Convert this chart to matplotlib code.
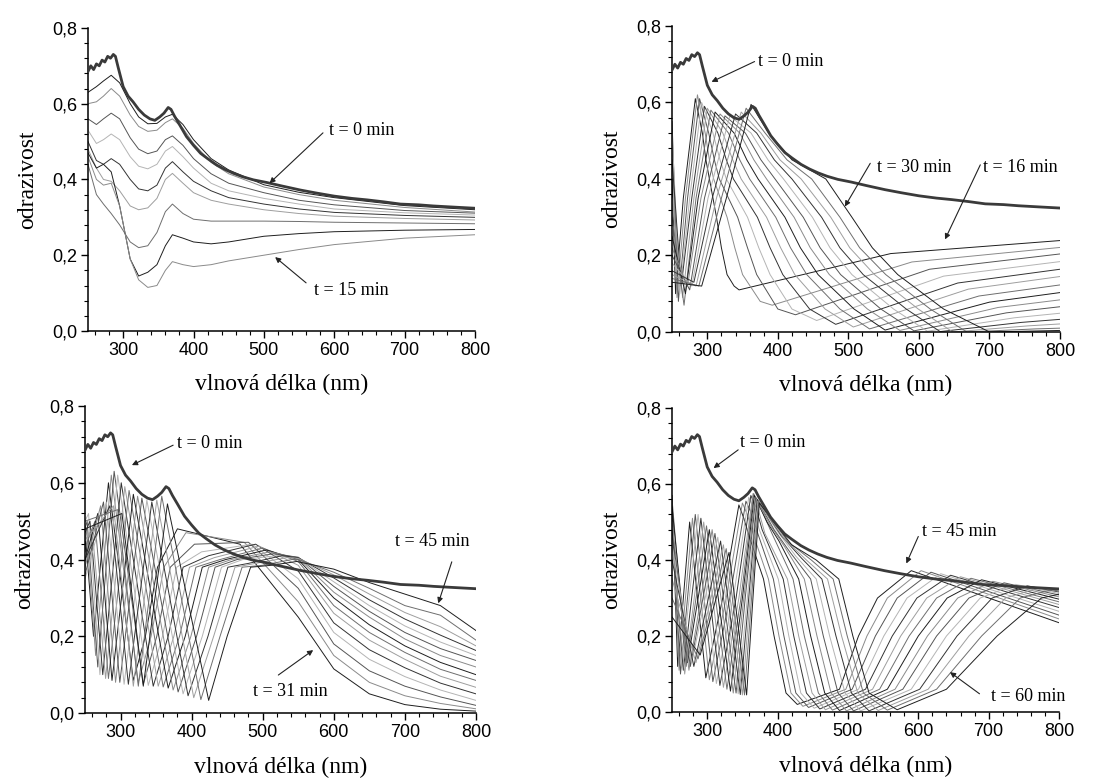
import matplotlib

matplotlib.use("Agg")
import matplotlib.pyplot as plt
from matplotlib.ticker import MultipleLocator, FuncFormatter

SERIF = ["Liberation Serif", "DejaVu Serif"]
SANS = ["Liberation Sans", "DejaVu Sans"]
GRAYS = ["#1e1e1e", "#8a8a8a", "#555555", "#b4b4b4", "#333333", "#9e9e9e", "#6e6e6e"]

# t = 0 min spectrum (identical in all four panels)
T0_LAM = [250, 254, 258, 262, 266, 270, 274, 278, 282, 286, 289, 293, 300, 307, 314, 322,
          330, 338, 345, 352, 358, 364, 368, 373, 380, 390, 400, 410, 420, 433, 445, 457,
          470, 485, 504, 525, 552, 575, 600, 625, 647, 670, 694, 720, 741, 770, 800]
T0_R = [0.685, 0.70, 0.69, 0.705, 0.70, 0.715, 0.71, 0.725, 0.72, 0.73, 0.725, 0.695, 0.645,
        0.62, 0.605, 0.585, 0.57, 0.56, 0.556, 0.565, 0.575, 0.59, 0.585, 0.567, 0.545, 0.513,
        0.49, 0.469, 0.455, 0.438, 0.426, 0.416, 0.407, 0.399, 0.392, 0.383, 0.372, 0.364,
        0.356, 0.35, 0.346, 0.341, 0.335, 0.333, 0.330, 0.327, 0.324]

# panel 1: t = 1 .. 15 min, read on a common wavelength grid
P1_LAM = [250, 262, 272, 283, 295, 310, 322, 335, 348, 360, 370, 385, 400, 425, 450, 500, 550, 600, 700, 800]
P1_R = [
    [0.63, 0.645, 0.66, 0.675, 0.655, 0.60, 0.565, 0.547, 0.548, 0.565, 0.572, 0.545, 0.505, 0.455, 0.425, 0.386, 0.366, 0.352, 0.331, 0.32],
    [0.60, 0.605, 0.62, 0.64, 0.62, 0.57, 0.54, 0.527, 0.53, 0.55, 0.56, 0.535, 0.495, 0.445, 0.415, 0.38, 0.36, 0.345, 0.326, 0.314],
    [0.56, 0.545, 0.56, 0.575, 0.56, 0.51, 0.48, 0.468, 0.475, 0.505, 0.515, 0.49, 0.455, 0.415, 0.39, 0.365, 0.345, 0.333, 0.318, 0.311],
    [0.53, 0.495, 0.505, 0.52, 0.505, 0.46, 0.435, 0.428, 0.44, 0.475, 0.487, 0.46, 0.43, 0.39, 0.37, 0.35, 0.335, 0.322, 0.312, 0.306],
    [0.50, 0.45, 0.44, 0.455, 0.44, 0.40, 0.375, 0.37, 0.385, 0.43, 0.447, 0.42, 0.395, 0.37, 0.352, 0.335, 0.322, 0.313, 0.305, 0.30],
    [0.48, 0.43, 0.40, 0.395, 0.37, 0.33, 0.32, 0.325, 0.35, 0.40, 0.416, 0.39, 0.365, 0.345, 0.335, 0.32, 0.31, 0.303, 0.297, 0.293],
    [0.44, 0.36, 0.335, 0.31, 0.28, 0.235, 0.22, 0.225, 0.26, 0.315, 0.335, 0.31, 0.295, 0.29, 0.29, 0.29, 0.289, 0.287, 0.285, 0.283],
    [0.47, 0.43, 0.44, 0.42, 0.33, 0.19, 0.145, 0.155, 0.175, 0.225, 0.254, 0.245, 0.235, 0.23, 0.235, 0.25, 0.257, 0.262, 0.266, 0.268],
    [0.46, 0.40, 0.385, 0.39, 0.33, 0.19, 0.135, 0.115, 0.12, 0.16, 0.183, 0.175, 0.17, 0.175, 0.185, 0.20, 0.215, 0.228, 0.245, 0.254],
]

# panel 2: t = 16 .. 30 min, feature positions of each spectrum
P2_A250 = [0.40, 0.50, 0.55, 0.52, 0.45, 0.35, 0.30, 0.25, 0.22, 0.20, 0.18, 0.16, 0.15, 0.14, 0.13]
P2_LMIN = [255, 257, 259, 261, 263, 265, 267, 269, 272, 275, 278, 281, 284, 288, 292]
P2_RLMIN = [0.10, 0.09, 0.08, 0.10, 0.12, 0.09, 0.07, 0.10, 0.12, 0.11, 0.12, 0.13, 0.12, 0.12, 0.12]
P2_LRISE = [266, 269, 272, 275, 278, 281, 284, 287, 291, 296, 301, 307, 313, 320, 327]
P2_PEAK = [283, 286, 289, 292, 296, 300, 305, 311, 318, 325, 332, 340, 348, 355, 362]
P2_RPEAK = [0.61, 0.62, 0.61, 0.60, 0.59, 0.585, 0.58, 0.575, 0.57, 0.565, 0.565, 0.57, 0.575, 0.585, 0.595]
P2_L52 = [293, 297, 302, 308, 315, 322, 330, 338, 346, 354, 362, 370, 376, 382, 387]
P2_L45 = [298, 303, 310, 318, 327, 336, 346, 356, 366, 376, 386, 395, 403, 413, 420]
P2_L40 = [303, 309, 317, 327, 337, 348, 360, 372, 384, 396, 408, 420, 433, 448, 468]
P2_L30 = [313, 328, 343, 357, 371, 384, 397, 410, 423, 436, 449, 462, 475, 488, 505]
P2_L22 = [320, 339, 357, 373, 389, 404, 418, 432, 446, 460, 474, 488, 502, 516, 534]
P2_L15 = [328, 350, 370, 389, 407, 424, 441, 457, 473, 489, 505, 521, 537, 553, 570]
P2_L06 = [338, 375, 400, 420, 445, 467, 488, 508, 527, 546, 564, 582, 599, 616, 635]
P2_R06 = [0.12, 0.08, 0.06, 0.06, 0.06, 0.06, 0.06, 0.06, 0.06, 0.06, 0.06, 0.06, 0.06, 0.06, 0.06]
P2_MIN = [345, 392, 425, 455, 482, 507, 530, 552, 573, 593, 612, 630, 648, 668, 700]
P2_RMIN = [0.11, 0.07, 0.045, 0.03, 0.02, 0.013, 0.008, 0.005, 0.004, 0.003, 0.002, 0.001, 0.0, 0.0, 0.0]
P2_KNEE = [560, 590, 615, 635, 655, 670, 685, 700, 712, 724, 735, 745, 755, 765, 775]
P2_RKNEE = [0.205, 0.183, 0.164, 0.146, 0.128, 0.112, 0.094, 0.078, 0.064, 0.05, 0.037, 0.025, 0.016, 0.008, 0.003]
P2_R800 = [0.239, 0.221, 0.204, 0.184, 0.164, 0.145, 0.123, 0.103, 0.084, 0.066, 0.049, 0.033, 0.021, 0.010, 0.004]

# panel 3: t = 31 .. 45 min
P3_A250 = [0.42, 0.45, 0.48, 0.50, 0.47, 0.45, 0.43, 0.40, 0.38, 0.36, 0.35, 0.40, 0.45, 0.50, 0.48]
P3_PK0 = [251, 252, 253, 255, 257, 260, 264, 268, 272, 276, 280, 285, 290, 296, 302]
P3_RPK0 = [0.45, 0.48, 0.50, 0.52, 0.50, 0.48, 0.50, 0.52, 0.54, 0.55, 0.55, 0.54, 0.54, 0.53, 0.52]
P3_LL = [262, 265, 268, 271, 275, 279, 283, 288, 293, 299, 305, 311, 318, 325, 332]
P3_RLL = [0.20, 0.15, 0.12, 0.10, 0.10, 0.09, 0.09, 0.085, 0.08, 0.08, 0.075, 0.075, 0.07, 0.07, 0.07]
P3_PP = [283, 287, 291, 296, 301, 306, 312, 318, 324, 330, 337, 344, 351, 358, 366]
P3_RPP = [0.60, 0.62, 0.63, 0.62, 0.60, 0.59, 0.58, 0.57, 0.565, 0.56, 0.555, 0.55, 0.555, 0.565, 0.545]
P3_RM = [318, 325, 332, 339, 346, 353, 360, 367, 374, 381, 388, 395, 403, 413, 424]
P3_RRM = [0.085, 0.08, 0.075, 0.072, 0.07, 0.07, 0.068, 0.065, 0.06, 0.055, 0.05, 0.045, 0.04, 0.035, 0.033]
P3_RS1 = [335, 343, 351, 359, 367, 375, 383, 391, 399, 407, 415, 423, 431, 440, 450]
P3_RS2 = [352, 361, 370, 379, 388, 397, 406, 415, 424, 433, 442, 451, 461, 471, 483]
P3_PL = [380, 392, 404, 414, 424, 432, 440, 448, 456, 464, 472, 480, 490, 500, 512]
P3_RPL = [0.48, 0.47, 0.44, 0.42, 0.41, 0.405, 0.40, 0.40, 0.40, 0.40, 0.40, 0.39, 0.39, 0.385, 0.385]
P3_RP = [468, 474, 480, 485, 490, 495, 500, 505, 510, 515, 520, 527, 534, 541, 548]
P3_RRP = [0.44, 0.445, 0.445, 0.44, 0.44, 0.435, 0.43, 0.425, 0.42, 0.415, 0.41, 0.41, 0.405, 0.40, 0.395]
P3_TAIL_LAM = [550, 600, 650, 700, 750, 800]
P3_R550 = [0.25, 0.29, 0.325, 0.35, 0.37, 0.385, 0.395, 0.40, 0.404, 0.406, 0.405, 0.405, 0.403, 0.40, 0.394]
P3_R600 = [0.115, 0.15, 0.18, 0.21, 0.235, 0.26, 0.28, 0.30, 0.315, 0.33, 0.342, 0.352, 0.36, 0.367, 0.375]
P3_R650 = [0.05, 0.08, 0.11, 0.14, 0.165, 0.19, 0.21, 0.23, 0.25, 0.265, 0.28, 0.295, 0.31, 0.325, 0.34]
P3_R700 = [0.022, 0.045, 0.07, 0.095, 0.118, 0.14, 0.158, 0.175, 0.193, 0.21, 0.227, 0.245, 0.262, 0.28, 0.31]
P3_R750 = [0.01, 0.025, 0.042, 0.06, 0.078, 0.096, 0.114, 0.132, 0.15, 0.168, 0.185, 0.203, 0.225, 0.255, 0.28]
P3_R800 = [0.005, 0.011, 0.02, 0.033, 0.05, 0.067, 0.085, 0.10, 0.12, 0.137, 0.15, 0.163, 0.175, 0.19, 0.215]

# panel 4: t = 46 .. 60 min
P4_A250 = [0.57, 0.55, 0.52, 0.50, 0.48, 0.45, 0.56, 0.54, 0.50, 0.47, 0.44, 0.40, 0.35, 0.30, 0.25]
P4_LM1 = [258, 260, 262, 264, 266, 268, 270, 272, 274, 276, 278, 281, 284, 287, 290]
P4_RLM1 = [0.12, 0.11, 0.10, 0.12, 0.11, 0.10, 0.12, 0.13, 0.11, 0.12, 0.13, 0.12, 0.13, 0.14, 0.15]
P4_LP1 = [275, 279, 283, 287, 291, 295, 299, 303, 307, 311, 315, 319, 323, 327, 331]
P4_RLP1 = [0.50, 0.51, 0.52, 0.52, 0.51, 0.50, 0.49, 0.48, 0.48, 0.47, 0.46, 0.45, 0.44, 0.43, 0.42]
P4_LM2 = [298, 303, 308, 313, 318, 323, 328, 333, 337, 341, 344, 347, 350, 353, 356]
P4_RLM2 = [0.09, 0.085, 0.08, 0.075, 0.07, 0.065, 0.06, 0.055, 0.05, 0.05, 0.048, 0.046, 0.045, 0.045, 0.045]
P4_UP = [322, 327, 332, 337, 341, 345, 348, 350, 352, 354, 357, 359, 361, 363, 365]
P4_TOP = [345, 350, 355, 359, 362, 365, 366, 367, 368, 369, 370, 371, 372, 373, 374]
P4_RTOP = [0.545, 0.55, 0.555, 0.565, 0.57, 0.575, 0.575, 0.57, 0.565, 0.565, 0.56, 0.56, 0.555, 0.555, 0.55]
P4_MID = [352, 357, 361, 365, 369, 373, 380, 385, 390, 395, 400, 405, 410, 415, 420]
P4_RMID = [0.51, 0.52, 0.53, 0.54, 0.54, 0.53, 0.52, 0.50, 0.49, 0.48, 0.475, 0.465, 0.455, 0.448, 0.44]
P4_SH = [360, 365, 370, 374, 378, 382, 392, 402, 410, 418, 426, 434, 441, 448, 455]
P4_RSH = [0.46, 0.47, 0.48, 0.48, 0.48, 0.47, 0.47, 0.45, 0.435, 0.42, 0.41, 0.405, 0.40, 0.40, 0.40]
P4_F35 = [380, 387, 394, 401, 408, 414, 422, 430, 438, 447, 455, 463, 471, 479, 487]
P4_F20 = [395, 402, 409, 416, 423, 430, 438, 447, 456, 465, 474, 483, 491, 499, 507]
P4_F05 = [412, 419, 426, 433, 441, 449, 458, 467, 476, 486, 496, 505, 514, 522, 530]
P4_RM = [428, 436, 444, 452, 460, 468, 478, 488, 498, 508, 518, 530, 543, 556, 570]
P4_RRM = [0.02, 0.015, 0.012, 0.01, 0.008, 0.006, 0.005, 0.004, 0.003, 0.003, 0.003, 0.003, 0.004, 0.005, 0.006]
P4_R06 = [488, 497, 506, 515, 525, 535, 545, 556, 567, 578, 590, 602, 614, 626, 640]
P4_R20 = [515, 527, 539, 551, 563, 575, 587, 600, 613, 626, 640, 655, 672, 690, 712]
P4_R30 = [542, 556, 570, 584, 598, 612, 626, 641, 656, 672, 688, 705, 724, 745, 775]
P4_RP = [590, 604, 618, 632, 646, 660, 675, 690, 706, 722, 738, 755, 772, 790, 800]
P4_RRP = [0.372, 0.372, 0.368, 0.364, 0.36, 0.356, 0.352, 0.348, 0.344, 0.34, 0.336, 0.332, 0.327, 0.322, 0.31]
P4_R800 = [0.235, 0.245, 0.255, 0.265, 0.275, 0.283, 0.29, 0.297, 0.303, 0.308, 0.312, 0.316, 0.318, 0.318, 0.31]

# labels: (text, text position, arrow start, arrow tip)
P1_NOTES = [("t = 0 min", (592, 0.53), (584, 0.523), (508, 0.39)),
            ("t = 15 min", (571, 0.108), (560, 0.127), (516, 0.195))]
P2_NOTES = [("t = 0 min", (372, 0.707), (367, 0.707), (306, 0.654)),
            ("t = 30 min", (541, 0.43), (531, 0.441), (495, 0.328)),
            ("t = 16 min", (691, 0.43), (687, 0.437), (637, 0.242))]
P3_NOTES = [("t = 0 min", (379, 0.703), (374, 0.698), (316, 0.646)),
            ("t = 45 min", (686, 0.446), (766, 0.394), (747, 0.286)),
            ("t = 31 min", (487, 0.056), (522, 0.099), (571, 0.164))]
P4_NOTES = [("t = 0 min", (347, 0.709), (344, 0.69), (309, 0.642)),
            ("t = 45 min", (605, 0.475), (600, 0.462), (583, 0.391)),
            ("t = 60 min", (704, 0.04), (687, 0.048), (645, 0.105))]


def panel2_curves():
    lam, ref = [], []
    for i in range(len(P2_PEAK)):
        lam.append([250, P2_LMIN[i], P2_LRISE[i], P2_PEAK[i], P2_L52[i], P2_L45[i], P2_L40[i],
                    P2_L30[i], P2_L22[i], P2_L15[i], P2_L06[i], P2_MIN[i], P2_KNEE[i], 800])
        ref.append([P2_A250[i], P2_RLMIN[i], 0.35, P2_RPEAK[i], 0.52, 0.45, 0.40, 0.30, 0.22, 0.15,
                    P2_R06[i], P2_RMIN[i], P2_RKNEE[i], P2_R800[i]])
    return lam, ref


def panel3_curves():
    lam, ref = [], []
    tails = [P3_R550, P3_R600, P3_R650, P3_R700, P3_R750, P3_R800]
    for i in range(len(P3_RP)):
        lam.append([250, P3_PK0[i], P3_LL[i], P3_PP[i], P3_RM[i], P3_RS1[i], P3_RS2[i], P3_PL[i],
                    P3_RP[i]] + P3_TAIL_LAM)
        ref.append([P3_A250[i], P3_RPK0[i], P3_RLL[i], P3_RPP[i], P3_RRM[i], 0.20, 0.38, P3_RPL[i],
                    P3_RRP[i]] + [t[i] for t in tails])
    return lam, ref


def panel4_curves():
    lam, ref = [], []
    for i in range(len(P4_RP)):
        l = [250, P4_LM1[i], P4_LP1[i], P4_LM2[i], P4_UP[i], P4_TOP[i], P4_MID[i], P4_SH[i],
             P4_F35[i], P4_F20[i], P4_F05[i], P4_RM[i], P4_R06[i], P4_R20[i], P4_R30[i], P4_RP[i]]
        r = [P4_A250[i], P4_RLM1[i], P4_RLP1[i], P4_RLM2[i], 0.30, P4_RTOP[i], P4_RMID[i], P4_RSH[i],
             0.35, 0.20, 0.05, P4_RRM[i], 0.06, 0.20, 0.30, P4_RRP[i]]
        if P4_RP[i] < 800:
            l.append(800)
            r.append(P4_R800[i])
        lam.append(l)
        ref.append(r)
    return lam, ref


def style_axes(ax):
    ax.set_xlim(250, 800)
    ax.set_ylim(0, 0.8)
    ax.spines["top"].set_visible(False)
    ax.spines["right"].set_visible(False)
    for s in ("left", "bottom"):
        ax.spines[s].set_linewidth(1.1)
    ax.xaxis.set_major_locator(MultipleLocator(100))
    ax.xaxis.set_minor_locator(MultipleLocator(20))
    ax.yaxis.set_major_locator(MultipleLocator(0.2))
    ax.yaxis.set_minor_locator(MultipleLocator(0.04))
    ax.set_xticks([300, 400, 500, 600, 700, 800])
    ax.yaxis.set_major_formatter(FuncFormatter(lambda v, p: f"{v:.1f}".replace(".", ",")))
    ax.tick_params(which="major", direction="out", length=5, width=1.0, labelsize=13, pad=3)
    ax.tick_params(which="minor", direction="out", length=3, width=0.8)
    for lab in ax.get_xticklabels() + ax.get_yticklabels():
        lab.set_family(SANS)
    ax.set_xlabel("vlnová délka (nm)", family=SERIF, fontsize=17, labelpad=11)
    ax.set_ylabel("odrazivost", family=SERIF, fontsize=17, labelpad=10)


def draw_panel(ax, lam_rows, ref_rows, notes):
    for i, (lam, ref) in enumerate(zip(lam_rows, ref_rows)):
        ax.plot(lam, ref, color=GRAYS[i % len(GRAYS)], lw=0.7, zorder=2)
    ax.plot(T0_LAM, T0_R, color="#3a3a3a", lw=2.0, zorder=3)
    for text, pos, start, tip in notes:
        ax.text(pos[0], pos[1], text, family=SERIF, fontsize=13, ha="left", va="center")
        ax.annotate("", xy=tip, xytext=start,
                    arrowprops=dict(arrowstyle="-|>", lw=0.8, color="#222222",
                                    mutation_scale=8, shrinkA=0, shrinkB=0))
    style_axes(ax)


fig = plt.figure(figsize=(11.11, 7.78), dpi=100)
ax1 = fig.add_axes([0.0792, 0.5746, 0.3483, 0.3895])
ax2 = fig.add_axes([0.6049, 0.5733, 0.3492, 0.3933])
ax3 = fig.add_axes([0.0765, 0.0835, 0.3519, 0.3946])
ax4 = fig.add_axes([0.6049, 0.0848, 0.3483, 0.3907])

draw_panel(ax1, [P1_LAM] * len(P1_R), P1_R, P1_NOTES)
draw_panel(ax2, *panel2_curves(), P2_NOTES)
draw_panel(ax3, *panel3_curves(), P3_NOTES)
draw_panel(ax4, *panel4_curves(), P4_NOTES)

fig.savefig("out.png", dpi=100)
plt.close(fig)
